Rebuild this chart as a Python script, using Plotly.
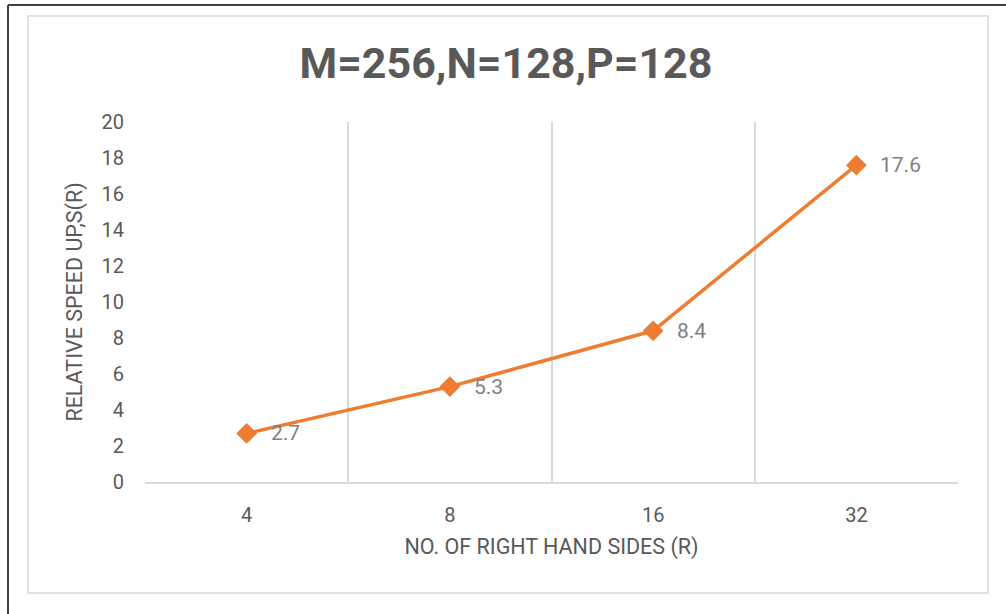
import plotly.graph_objects as go

# Relative speed-up versus number of right hand sides
rhs_counts = ["4", "8", "16", "32"]
speedup = [2.7, 5.3, 8.4, 17.6]
speedup_labels = ["2.7", "5.3", "8.4", "17.6"]
y_ticks = list(range(0, 21, 2))

W, H = 1006, 614
L, R, T, B = 145, 48, 122, 132
pw, ph = W - L - R, H - T - B


def px_x(px):
    return (px - L) / pw


def px_y(py):
    return (H - B - py) / ph


fig = go.Figure()
fig.add_trace(go.Scatter(
    x=rhs_counts,
    y=speedup,
    mode="lines+markers",
    line=dict(color="#ED7D31", width=3.5),
    marker=dict(symbol="diamond", size=16, color="#ED7D31"),
    showlegend=False,
))

# value labels to the right of each point (category index positions)
for idx, (val, lab) in enumerate(zip(speedup, speedup_labels)):
    fig.add_annotation(
        x=idx, y=val, xref="x", yref="y", text=lab, showarrow=False,
        xanchor="left", yanchor="middle", xshift=22,
        font=dict(family="Roboto", size=21, color="#7F7F7F"),
    )

fig.update_layout(
    width=W,
    height=H,
    margin=dict(l=L, r=R, t=T, b=B),
    paper_bgcolor="white",
    plot_bgcolor="white",
    font=dict(family="Roboto", color="#595959"),
    title=dict(
        text="<b>M=256,N=128,P=128</b>",
        font=dict(family="Roboto", size=43, color="#595959"),
        x=0.503,
        xanchor="center",
        y=1 - 63 / H,
        yanchor="middle",
    ),
    xaxis=dict(
        type="category",
        categoryorder="array",
        categoryarray=rhs_counts,
        range=[-0.5, 3.5],
        tickson="boundaries",
        showgrid=True,
        gridcolor="#D9D9D9",
        gridwidth=1.5,
        showline=True,
        linecolor="#D9D9D9",
        linewidth=1.5,
        ticks="",
        ticklabelstandoff=14,
        tickfont=dict(family="Roboto", size=20, color="#595959"),
        title=dict(text="NO. OF RIGHT HAND SIDES (R)",
                   font=dict(family="Roboto", size=21.5, color="#595959"),
                   standoff=13),
        zeroline=False,
    ),
    yaxis=dict(
        range=[0, 20],
        tickvals=y_ticks,
        showgrid=False,
        zeroline=False,
        showline=False,
        ticks="",
        ticklabelstandoff=20,
        tickfont=dict(family="Roboto", size=20, color="#595959"),
        title=dict(text="RELATIVE SPEED UP,S(R)",
                   font=dict(family="Roboto", size=21.5, color="#595959"),
                   standoff=12),
    ),
    shapes=[
        # inner chart frame
        dict(type="rect", xref="paper", yref="paper",
             x0=px_x(28), x1=px_x(988), y0=px_y(593), y1=px_y(16),
             line=dict(color="#D9D9D9", width=1.5), layer="below"),
        # outer dark frame (left and top edges)
        dict(type="line", xref="paper", yref="paper",
             x0=px_x(8), x1=px_x(8), y0=px_y(H + 2), y1=px_y(5),
             line=dict(color="#404040", width=2)),
        dict(type="line", xref="paper", yref="paper",
             x0=px_x(8), x1=px_x(W + 2), y0=px_y(5), y1=px_y(5),
             line=dict(color="#404040", width=2)),
    ],
)

fig.write_html("out.html")
